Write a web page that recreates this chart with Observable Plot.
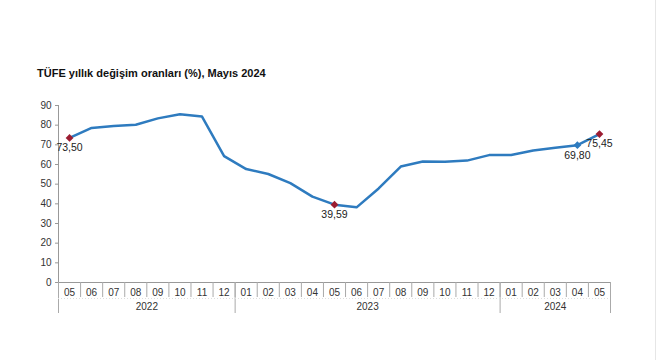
<!DOCTYPE html>
<html><head><meta charset="utf-8">
<script src="https://cdn.jsdelivr.net/npm/d3@7"></script>
<script src="https://cdn.jsdelivr.net/npm/@observablehq/plot@0.6"></script>
<style>
body{margin:0;background:#fff;font-family:"Liberation Sans",Arial,sans-serif}
#wrap{position:relative;width:660px;height:360px;overflow:hidden}
#title{position:absolute;left:37px;top:67px;font-weight:bold;font-size:11px;color:#111;white-space:nowrap}
#edge{position:absolute;left:655px;top:0;width:1px;height:360px;background:#e6e6e6}
#chart{position:absolute;left:0;top:0}
</style></head>
<body>
<div id="wrap"><div id="chart"></div><div id="title">TÜFE yıllık değişim oranları (%), Mayıs 2024</div><div id="edge"></div></div>
<script>
const months = ["05","06","07","08","09","10","11","12","01","02","03","04","05","06","07","08","09","10","11","12","01","02","03","04","05"];
const years = ["2022","2022","2022","2022","2022","2022","2022","2022","2023","2023","2023","2023","2023","2023","2023","2023","2023","2023","2023","2023","2024","2024","2024","2024","2024"];
const values = [73.50,78.62,79.60,80.21,83.45,85.51,84.39,64.27,57.68,55.18,50.51,43.68,39.59,38.21,47.83,58.94,61.53,61.36,61.98,64.77,64.86,67.07,68.50,69.80,75.45];
const yTicks = [0,10,20,30,40,50,60,70,80,90];

const data = months.map((m, i) => ({i, month: m, year: years[i], value: values[i]}));
const n = data.length;
const mayPoints = data.filter(d => d.month === "05");
const prevPoint = [data[n - 2]];
const labelled = [...mayPoints, ...prevPoint].map(d => ({...d, label: d3.format(".2f")(d.value).replace(".", ",")}));
const monthBounds = d3.range(n + 1).map(k => k - 0.5);
const groups = d3.groups(data, d => d.year).map(([y, rows]) => ({
  year: y, c: d3.mean(rows, r => r.i), lo: rows[0].i - 0.5, hi: rows[rows.length - 1].i + 0.5
}));
const yearBounds = Array.from(new Set(groups.flatMap(g => [g.lo, g.hi])));

const lineColor = "#2e7bbf";
const red = "#9b1c31";

const chart = Plot.plot({
  width: 660, height: 360,
  marginLeft: 58, marginRight: 50, marginTop: 105, marginBottom: 78,
  style: {fontFamily: "'Liberation Sans', Arial, sans-serif", fontSize: "10px", color: "#333", background: "transparent"},
  x: {domain: [-0.5, n - 0.5], axis: null},
  y: {domain: [0, 90], axis: null},
  marks: [
    Plot.axisY(yTicks, {tickSize: 3, tickPadding: 4, stroke: "#999", label: null, fill: "#333"}),
    Plot.ruleX([-0.5], {stroke: "#999"}),
    Plot.ruleY([0], {stroke: "#999"}),
    Plot.ruleX(monthBounds, {y1: 0, y2: 0, insetBottom: -15, stroke: "#aaa"}),
    Plot.ruleX(yearBounds, {y1: 0, y2: 0, insetBottom: -31, stroke: "#aaa"}),
    Plot.ruleY([0], {dy: 16, stroke: "#ddd", strokeDasharray: "1,2"}),
    Plot.text(data, {x: "i", y: 0, text: "month", dy: 10.5, fill: "#333"}),
    Plot.text(groups, {x: "c", y: 0, text: "year", dy: 24.5, fill: "#333"}),
    Plot.line(data, {x: "i", y: "value", stroke: lineColor, strokeWidth: 2.5}),
    Plot.dot(prevPoint, {x: "i", y: "value", symbol: "diamond2", r: 3.5, fill: lineColor}),
    Plot.dot(mayPoints, {x: "i", y: "value", symbol: "diamond2", r: 3.5, fill: red}),
    Plot.text(labelled, {x: "i", y: "value", text: "label", dy: 10, fontSize: 10.5, fill: "#222"})
  ]
});
document.getElementById("chart").appendChild(chart);
</script>
</body></html>
